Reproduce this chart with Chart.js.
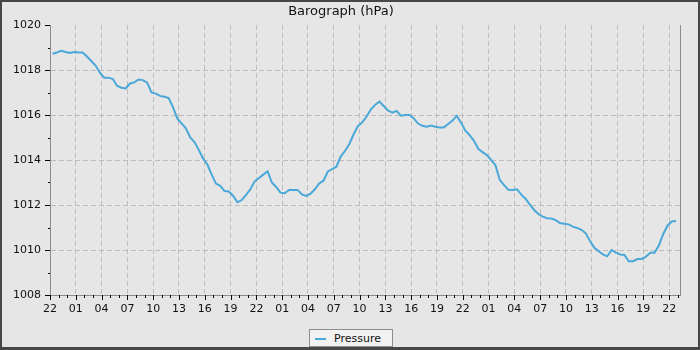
<!DOCTYPE html>
<html>
<head>
<meta charset="utf-8">
<script src="https://cdn.jsdelivr.net/npm/chart.js@4.4.1/dist/chart.umd.min.js"></script>
<style>
  html, body { margin: 0; padding: 0; background: #e6e6e6; }
  #frame {
    position: relative;
    width: 700px;
    height: 350px;
    box-sizing: border-box;
    border-style: solid;
    border-color: #474747;
    border-width: 2px 2px 3px 2px;
    background: #e6e6e6;
    overflow: hidden;
  }
  #myChart { display: block; }
  #legend {
    position: absolute;
    left: 307px;
    top: 327px;
    width: 84px;
    height: 18px;
    box-sizing: border-box;
    border: 1px solid #8c8c8c;
    background: #f2f2f2;
    font: 11px 'DejaVu Sans', sans-serif;
    color: #111;
  }
  #legend .swatch {
    position: absolute;
    left: 5px;
    top: 8px;
    width: 11px;
    height: 2px;
    background: #4aa8d8;
  }
  #legend .text { position: absolute; left: 24px; top: 2px; }
</style>
</head>
<body>
<div id="frame">
  <canvas id="myChart" width="696" height="345"></canvas>
  <div id="legend"><span class="swatch"></span><span class="text">Pressure</span></div>
</div>
<script>
// hours since 22:00 of the first day, one reading every half hour
const firstHour = 0.3;
const stepHours = 0.5;
const startClock = 22;

const pressure = [
  1018.72, 1018.78, 1018.85, 1018.8, 1018.76, 1018.8, 1018.78, 1018.78,
  1018.6, 1018.4, 1018.2, 1017.88, 1017.66, 1017.66, 1017.6, 1017.3,
  1017.21, 1017.18, 1017.4, 1017.45, 1017.58, 1017.55, 1017.44, 1017.0,
  1016.95, 1016.85, 1016.81, 1016.75, 1016.35, 1015.85, 1015.63, 1015.41,
  1015.0, 1014.8, 1014.45, 1014.07, 1013.8, 1013.35, 1012.95, 1012.85,
  1012.62, 1012.6, 1012.4, 1012.12, 1012.22, 1012.45, 1012.7, 1013.05,
  1013.2, 1013.35, 1013.5, 1013.0, 1012.8, 1012.55, 1012.52, 1012.67,
  1012.67, 1012.67, 1012.47, 1012.4, 1012.5, 1012.7, 1012.96, 1013.08,
  1013.48, 1013.6, 1013.7, 1014.15, 1014.4, 1014.7, 1015.14, 1015.5,
  1015.67, 1015.92, 1016.24, 1016.45, 1016.6, 1016.4, 1016.2, 1016.1,
  1016.18, 1015.97, 1016.0, 1016.0, 1015.85, 1015.62, 1015.52, 1015.48,
  1015.53, 1015.48, 1015.45, 1015.45, 1015.6, 1015.75, 1015.96, 1015.66,
  1015.3, 1015.1, 1014.85, 1014.5, 1014.35, 1014.22, 1014.0, 1013.77,
  1013.12, 1012.88, 1012.68, 1012.67, 1012.7, 1012.46, 1012.28, 1012.02,
  1011.78, 1011.6, 1011.48, 1011.41, 1011.4, 1011.33, 1011.2, 1011.17,
  1011.14, 1011.04, 1010.98, 1010.9, 1010.74, 1010.4, 1010.1, 1009.95,
  1009.8, 1009.72, 1010.0, 1009.88, 1009.8, 1009.78, 1009.5, 1009.5,
  1009.6, 1009.6, 1009.7, 1009.88, 1009.88, 1010.2, 1010.7, 1011.08,
  1011.27, 1011.29,
];

const xMin = 0;
const xMax = 73.26;
const yMin = 1008;
const yMax = 1020;

const hours = pressure.map((_, i) => firstHour + i * stepHours);

function clockLabel(h) {
  return String((startClock + h) % 24).padStart(2, '0');
}

// small tick marks plus the right-hand frame line
const tickMarks = {
  id: 'tickMarks',
  afterDraw(chart) {
    const ctx = chart.ctx;
    const x = chart.scales.x;
    const y = chart.scales.y;
    const area = chart.chartArea;
    ctx.save();
    ctx.strokeStyle = '#000';
    ctx.lineWidth = 1;
    ctx.beginPath();
    for (let h = Math.ceil(xMin); h <= xMax; h++) {
      const px = Math.round(x.getPixelForValue(h)) + 0.5;
      ctx.moveTo(px, area.bottom);
      ctx.lineTo(px, area.bottom + (h % 3 === 0 ? 5 : 3));
    }
    for (let v = yMin; v <= yMax; v++) {
      const py = Math.round(y.getPixelForValue(v)) + 0.5;
      ctx.moveTo(area.left, py);
      ctx.lineTo(area.left - (v % 2 === 0 ? 5 : 2), py);
    }
    ctx.stroke();
    ctx.strokeStyle = '#8c8c8c';
    ctx.beginPath();
    ctx.moveTo(Math.round(area.right) + 0.5, area.top);
    ctx.lineTo(Math.round(area.right) + 0.5, area.bottom);
    ctx.stroke();
    ctx.restore();
  },
};

Chart.defaults.font.family = "'DejaVu Sans', sans-serif";
Chart.defaults.font.size = 11;
Chart.defaults.color = '#111';

const chartConfig = {
  type: 'line',
  data: {
    labels: hours,
    datasets: [
      {
        label: 'Pressure',
        data: pressure,
        borderColor: '#4aa8d8',
        backgroundColor: '#4aa8d8',
        borderWidth: 2,
        pointRadius: 0,
        fill: false,
      },
    ],
  },
  options: {
    responsive: false,
    animation: false,
    layout: {
      padding: { top: 0, right: 18, bottom: 0, left: 0 },
    },
    plugins: {
      legend: { display: false },
      tooltip: { enabled: false },
      title: {
        display: true,
        text: 'Barograph (hPa)',
        color: '#111',
        font: { size: 13, weight: 'normal' },
        padding: { top: 2, bottom: 5.4 },
      },
    },
    scales: {
      x: {
        type: 'linear',
        min: xMin,
        max: xMax,
        afterFit: (scale) => {
          scale.height = 52;
        },
        afterBuildTicks: (scale) => {
          const ticks = [];
          for (let h = Math.ceil(xMin); h <= xMax; h += 3) ticks.push({ value: h });
          scale.ticks = ticks;
        },
        ticks: {
          autoSkip: false,
          maxRotation: 0,
          padding: 8,
          callback: (value) => clockLabel(value),
        },
        grid: {
          drawTicks: false,
          color: (c) =>
            c.tick && c.tick.value > xMin ? '#bdbdbd' : 'rgba(0,0,0,0)',
        },
        border: { color: '#8c8c8c', dash: [5, 3] },
      },
      y: {
        type: 'linear',
        min: yMin,
        max: yMax,
        afterFit: (scale) => {
          scale.width = 48;
        },
        ticks: {
          stepSize: 2,
          padding: 9,
          callback: (value) => String(value),
        },
        grid: {
          drawTicks: false,
          color: (c) =>
            c.tick && c.tick.value > yMin && c.tick.value < yMax
              ? '#bdbdbd'
              : 'rgba(0,0,0,0)',
        },
        border: { color: '#8c8c8c', dash: [5, 3] },
      },
    },
  },
  plugins: [tickMarks],
};

const ctx = document.getElementById('myChart');
const myChart = new Chart(ctx, chartConfig);
</script>
</body>
</html>
